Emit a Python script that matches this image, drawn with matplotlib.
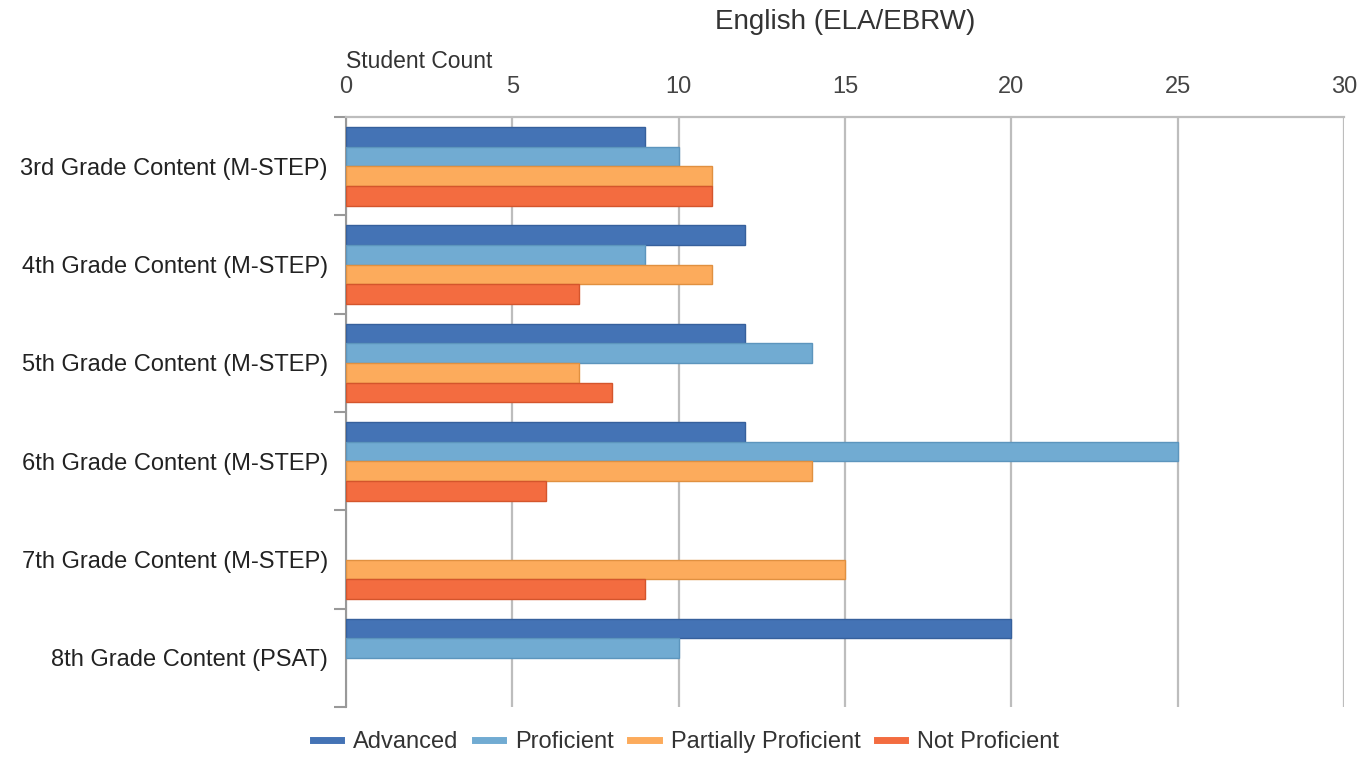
import matplotlib.pyplot as plt
import numpy as np

plt.rcParams['font.family'] = ['Liberation Sans', 'DejaVu Sans']

categories = ["3rd Grade Content (M-STEP)", "4th Grade Content (M-STEP)",
              "5th Grade Content (M-STEP)", "6th Grade Content (M-STEP)",
              "7th Grade Content (M-STEP)", "8th Grade Content (PSAT)"]
advanced = [9, 12, 12, 12, 0, 20]
proficient = [10, 9, 14, 25, 0, 10]
partially = [11, 11, 7, 14, 15, 0]
not_proficient = [11, 7, 8, 6, 9, 0]
series_names = ["Advanced", "Proficient", "Partially Proficient", "Not Proficient"]
x_ticks = [0, 5, 10, 15, 20, 25, 30]

colors = ["#4473b5", "#71abd2", "#fcab5c", "#f36c40"]
edges = ["#36609c", "#5c95bd", "#e09040", "#d4552c"]

fig = plt.figure(figsize=(13.61, 7.59), dpi=100)
ax = fig.add_axes([0.2542, 0.0685, 0.7333, 0.7773])

y = np.arange(len(categories))
h = 0.2
all_series = [advanced, proficient, partially, not_proficient]
for i, (vals, name) in enumerate(zip(all_series, series_names)):
    vals = np.array(vals, dtype=float)
    keep = vals > 0  # empty bars are not drawn
    ax.barh((y - 0.3 + i * h)[keep], vals[keep], height=h, color=colors[i],
            edgecolor=edges[i], linewidth=1.0, label=name, zorder=3)

ax.set_xlim(0, 30)
ax.set_ylim(len(categories) - 0.5, -0.5)
ax.xaxis.tick_top()
ax.set_xticks(x_ticks)
ax.tick_params(axis='x', length=0, labelsize=17, colors='#444444', pad=14)
ax.grid(axis='x', color='#bdbdbd', linewidth=1.6, zorder=0)

ax.set_yticks(y)
ax.set_yticklabels(categories)
ax.set_yticks(np.arange(len(categories) + 1) - 0.5, minor=True)
ax.tick_params(axis='y', which='major', length=0, labelsize=17, colors='#222222', pad=13)
ax.tick_params(axis='y', which='minor', length=9, width=1.5, color='#999999')

for s in ['right', 'bottom']:
    ax.spines[s].set_visible(False)
ax.spines['left'].set_color('#999999')
ax.spines['left'].set_linewidth(1.5)
ax.spines['top'].set_color('#bdbdbd')
ax.spines['top'].set_linewidth(1.6)

fig.text(346 / 1361, 1 - 62 / 759, "Student Count", fontsize=16.5, color='#333333',
         ha='left', va='center')
fig.text(845 / 1361, 1 - 22 / 759, "English (ELA/EBRW)", fontsize=20, color='#333333',
         ha='center', va='center')

handles = [plt.Line2D([0], [0], color=c, linewidth=5) for c in colors]
fig.legend(handles, series_names, loc='center', bbox_to_anchor=(686 / 1361, 1 - 742 / 759),
           ncol=4, frameon=False, fontsize=17, handlelength=1.2, columnspacing=0.7,
           handletextpad=0.5, labelcolor='#333333')

fig.savefig("out.png", dpi=100)
